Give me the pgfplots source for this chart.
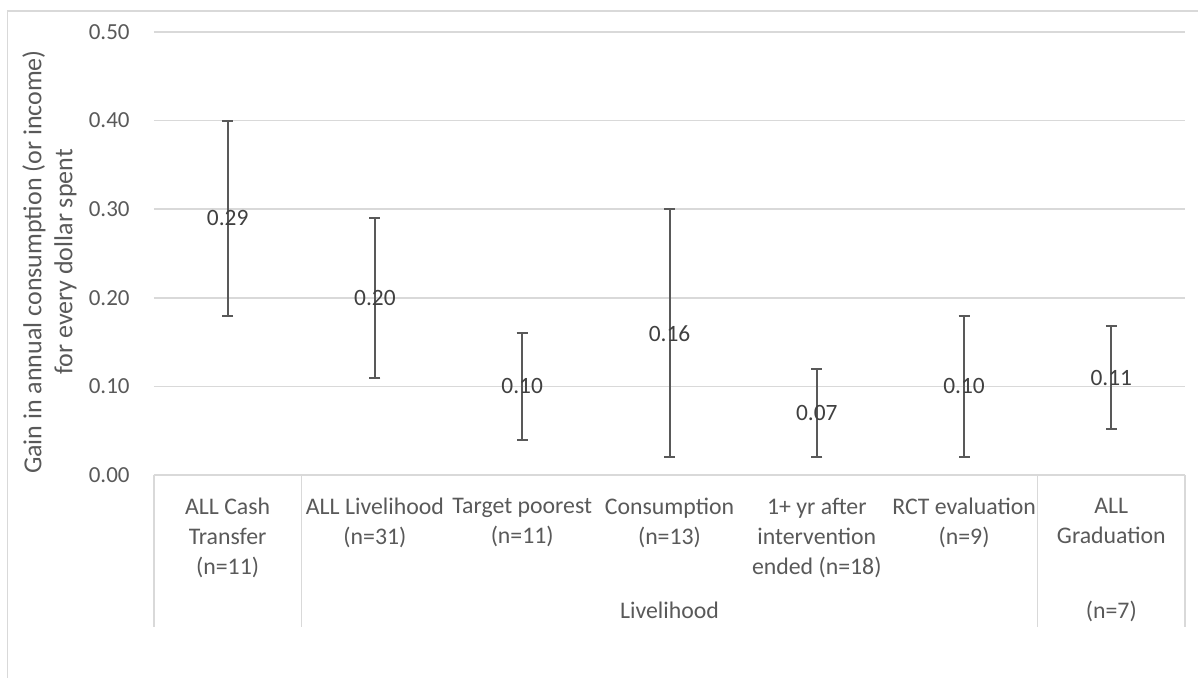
\documentclass[border=0pt]{standalone}
\usepackage{pgfplots}
\pgfplotsset{compat=1.18}
\usepackage{pgfplotstable}
\usepackage{fontspec}
\setmainfont{Carlito}
\definecolor{gridc}{HTML}{D9D9D9}
\definecolor{txt}{HTML}{595959}
\definecolor{lbl}{HTML}{404040}
\definecolor{errc}{HTML}{595959}

\pgfplotstableread{
x y e
1 0.29 0.11
2 0.20 0.09
3 0.10 0.06
4 0.16 0.14
5 0.07 0.05
6 0.10 0.08
7 0.11 0.058
}\data

\begin{document}
\begin{tikzpicture}
\useasboundingbox (-77pt,-101pt) rectangle (522pt,237.5pt);
\draw[gridc, line width=0.6pt] (-73.15pt,-110pt) -- (-73.15pt,232pt) -- (530pt,232pt);
\begin{axis}[
  at={(0,0)}, anchor=south west,
  width=515.5pt, height=221.5pt, scale only axis,
  xmin=0.5, xmax=7.5, ymin=0, ymax=0.5,
  clip=false,
  axis line style={draw=none},
  major tick length=0pt,
  ymajorgrids, grid style={gridc, line width=0.75pt},
  ytick={0,0.1,0.2,0.3,0.4,0.5},
  xtick={1,2,3,4,5,6,7},
  xticklabels={{ALL Cash\\Transfer\\(n=11)},{ALL Livelihood\\(n=31)},{Target poorest\\(n=11)},{Consumption\\(n=13)},{1+ yr after\\intervention\\ended (n=18)},{RCT evaluation\\(n=9)},{ALL\\Graduation}},
  xticklabel style={align=center, anchor=north, inner sep=0pt, yshift=-11.5pt, font=\fontsize{11.9}{15}\selectfont, text=txt},
  yticklabel style={anchor=east, inner sep=0pt, xshift=-12pt, font=\fontsize{11.5}{14}\selectfont, text=txt},
  /pgf/number format/.cd, fixed, fixed zerofill, precision=2, assume math mode=true,
]
\addplot[draw=none, mark=none,
  nodes near coords,
  every node near coord/.append style={anchor=center, inner sep=0pt, font=\fontsize{11.7}{14}\selectfont, text=lbl},
  error bars/.cd, y dir=both, y explicit,
  error bar style={draw=errc, line width=1pt},
  error mark options={draw=errc, line width=1pt, mark size=2.75pt, rotate=90},
] table[x=x, y=y, y error=e] {\data};
\draw[gridc, line width=0.75pt] (axis cs:0.5,0) -- ([yshift=-76pt]axis cs:0.5,0);
\draw[gridc, line width=0.75pt] (axis cs:1.5,0) -- ([yshift=-76pt]axis cs:1.5,0);
\draw[gridc, line width=0.75pt] (axis cs:6.5,0) -- ([yshift=-76pt]axis cs:6.5,0);
\draw[gridc, line width=0.75pt] (axis cs:7.5,0) -- ([yshift=-76pt]axis cs:7.5,0);
\node[anchor=base, font=\fontsize{11.9}{14}\selectfont, text=txt, yshift=-71.5pt] at (axis cs:4,0) {Livelihood};
\node[anchor=base, font=\fontsize{11.9}{14}\selectfont, text=txt, yshift=-71.5pt] at (axis cs:7,0) {(n=7)};
\end{axis}
\node[rotate=90, align=center, font=\fontsize{13}{15.5}\selectfont, text=txt] at (-52.25pt,106.5pt) {Gain in annual consumption (or income)\\for every dollar spent};
\end{tikzpicture}
\end{document}
